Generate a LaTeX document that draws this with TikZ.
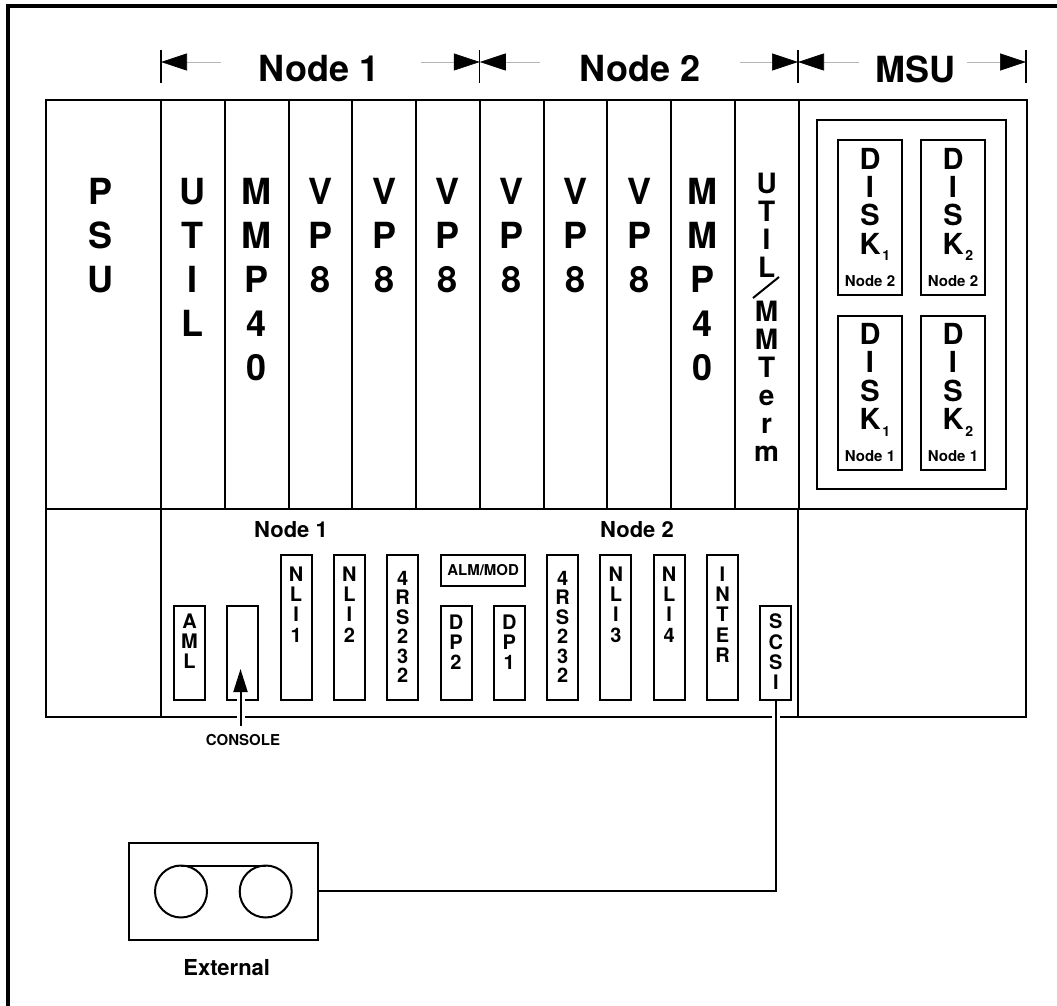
\documentclass[tikz,border=0pt]{standalone}
\usepackage{fontspec}
\setmainfont{TeX Gyre Heros}
\usetikzlibrary{arrows.meta, positioning, calc}
\definecolor{dimgray}{HTML}{b5b5b5}
\newcommand{\disksub}[1]{\rlap{\raisebox{-6.5pt}{\hspace{2pt}\fontsize{14}{15}\selectfont #1}}}

\begin{document}
\begin{tikzpicture}[
    x=1pt, y=-1pt,
    line width=2pt,
    panel/.style={rectangle, draw, inner sep=0pt, outer sep=0pt},
    slot_box/.style={panel, minimum width=63.75pt, minimum height=409pt},
    card/.style={panel, minimum width=31pt},
    card_tall/.style={card, minimum height=145pt},
    card_short/.style={card, minimum height=94pt},
    disk_box/.style={panel, minimum width=64pt, minimum height=154.5pt},
    big_text/.style={inner sep=0pt, align=center, font=\fontsize{36}{44}\bfseries\selectfont},
    slim_text/.style={inner sep=0pt, align=center, font=\fontsize{28}{28}\bfseries\selectfont},
    disk_text/.style={inner sep=0pt, align=center, font=\fontsize{29}{28.3}\bfseries\selectfont},
    card_text/.style={inner sep=0pt, align=center, font=\fontsize{20}{20.2}\bfseries\selectfont},
    card_dense/.style={inner sep=0pt, align=center, font=\fontsize{20}{19.5}\bfseries\selectfont},
    tag_text/.style={inner sep=0pt, font=\fontsize{15}{15}\bfseries\selectfont},
    group_text/.style={inner sep=0pt, font=\fontsize{22}{22}\bfseries\selectfont},
    dim_arrow/.style={draw=dimgray, line width=0.6pt, -{Triangle[length=26pt, width=17pt, black]}},
    dim_tick/.style={line width=1.2pt},
    halo/.style={preaction={draw=white, line width=8pt, shorten <=2pt, shorten >=2pt, -}}
]
\useasboundingbox (0,0) rectangle (1057,1006);

% outer frame, open at the right and the bottom
\draw[line width=4pt] (8,1006) -- (8,6) -- (1057,6);

% header
\node[big_text] (hdr1) at (319,69) {Node 1};
\node[big_text] (hdr2) at (640,69) {Node 2};
\node[big_text] (hdr3) at (915,69) {MSU};
\coordinate (tick1) at (161,62);
\coordinate (tick2) at (479.75,62);
\coordinate (tick3) at (798,62);
\coordinate (tick4) at (1026,62);
\coordinate (h1a) at (221,62);
\coordinate (h1b) at (421,62);
\coordinate (h2a) at (540,62);
\coordinate (h2b) at (740,62);
\coordinate (h3a) at (859,62);
\coordinate (h3b) at (967,62);
\draw[dim_tick] ([yshift=12pt]tick1) -- ([yshift=-21pt]tick1);
\draw[dim_tick] ([yshift=12pt]tick2) -- ([yshift=-21pt]tick2);
\draw[dim_tick] ([yshift=12pt]tick3) -- ([yshift=-21pt]tick3);
\draw[dim_tick] ([yshift=12pt]tick4) -- ([yshift=-21pt]tick4);
\draw[dim_arrow] (h1a) -- (tick1);
\draw[dim_arrow] (h1b) -- (tick2);
\draw[dim_arrow] (h2a) -- (tick2);
\draw[dim_arrow] (h2b) -- (tick3);
\draw[dim_arrow] (h3a) -- (tick3);
\draw[dim_arrow] (h3b) -- (tick4);

% upper row
\node[panel, minimum width=115pt, minimum height=409pt, anchor=north west] (psu) at (46,100) {};
\node[slot_box, right=0pt of psu] (s1) {};
\node[slot_box, right=0pt of s1] (s2) {};
\node[slot_box, right=0pt of s2] (s3) {};
\node[slot_box, right=0pt of s3] (s4) {};
\node[slot_box, right=0pt of s4] (s5) {};
\node[slot_box, right=0pt of s5] (s6) {};
\node[slot_box, right=0pt of s6] (s7) {};
\node[slot_box, right=0pt of s7] (s8) {};
\node[slot_box, right=0pt of s8] (s9) {};
\node[slot_box, right=0pt of s9] (s10) {};
\node[panel, minimum width=228pt, minimum height=409pt, right=0pt of s10] (msu) {};

\node[big_text, below=77pt of psu.north, xshift=-3pt] (psu_txt) {P\\S\\U};
\node[big_text, below=77pt of s1.north] (s1_txt) {U\\T\\I\\L};
\node[big_text, below=77pt of s2.north] (s2_txt) {M\\M\\P\\4\\0};
\node[big_text, below=77pt of s3.north] (s3_txt) {V\\P\\8};
\node[big_text, below=77pt of s4.north] (s4_txt) {V\\P\\8};
\node[big_text, below=77pt of s5.north] (s5_txt) {V\\P\\8};
\node[big_text, below=77pt of s6.north] (s6_txt) {V\\P\\8};
\node[big_text, below=77pt of s7.north] (s7_txt) {V\\P\\8};
\node[big_text, below=77pt of s8.north] (s8_txt) {V\\P\\8};
\node[big_text, below=77pt of s9.north] (s9_txt) {M\\M\\P\\4\\0};
\node[slim_text, below=72pt of s10.north] (util_txt) {U\\T\\I\\L};
\node[slim_text, below=200pt of s10.north] (term_txt) {M\\M\\T\\e\\r\\m};
\coordinate (slash_a) at (753,298);
\coordinate (slash_b) at (779,277);
\draw (slash_a) -- (slash_b);

% disk pack
\node[panel, minimum width=189pt, minimum height=369pt, anchor=north west] (pack) at (817,120) {};
\node[disk_box, anchor=north west] (d21) at (838,140) {};
\node[disk_box, right=19pt of d21] (d22) {};
\node[disk_box, below=21pt of d21] (d11) {};
\node[disk_box, right=19pt of d11] (d12) {};
\node[disk_text, below=7pt of d21.north] (d21_txt) {D\\I\\S\\K\disksub{1}};
\node[disk_text, below=7pt of d22.north] (d22_txt) {D\\I\\S\\K\disksub{2}};
\node[disk_text, below=7pt of d11.north] (d11_txt) {D\\I\\S\\K\disksub{1}};
\node[disk_text, below=7pt of d12.north] (d12_txt) {D\\I\\S\\K\disksub{2}};
\node[tag_text, above=7pt of d21.south] (d21_tag) {Node 2};
\node[tag_text, above=7pt of d22.south] (d22_tag) {Node 2};
\node[tag_text, above=7pt of d11.south] (d11_tag) {Node 1};
\node[tag_text, above=7pt of d12.south] (d12_tag) {Node 1};

% lower row
\node[panel, minimum width=115pt, minimum height=208pt, below=0pt of psu] (low1) {};
\node[panel, minimum width=637pt, minimum height=208pt, right=0pt of low1] (low2) {};
\node[panel, minimum width=228pt, minimum height=208pt, right=0pt of low2] (low3) {};
\node[group_text] (grp1) at (291,530) {Node 1};
\node[group_text] (grp2) at (637,530) {Node 2};

\node[card_short, anchor=south west] (aml) at (174,700) {};
\node[card_short, right=22.3pt of aml.south east, anchor=south west] (console) {};
\node[card_tall, right=22.3pt of console.south east, anchor=south west] (nli1) {};
\node[card_tall, right=22.3pt of nli1.south east, anchor=south west] (nli2) {};
\node[card_tall, right=22.3pt of nli2.south east, anchor=south west] (rsa) {};
\node[card_short, right=22.3pt of rsa.south east, anchor=south west] (dp2) {};
\node[card_short, right=22.3pt of dp2.south east, anchor=south west] (dp1) {};
\node[card_tall, right=22.3pt of dp1.south east, anchor=south west] (rsb) {};
\node[card_tall, right=22.3pt of rsb.south east, anchor=south west] (nli3) {};
\node[card_tall, right=22.3pt of nli3.south east, anchor=south west] (nli4) {};
\node[card_tall, right=22.3pt of nli4.south east, anchor=south west] (inter) {};
\node[card_short, right=22.3pt of inter.south east, anchor=south west] (scsi) {};
\node[panel, minimum width=84.3pt, minimum height=31pt, anchor=north west, font=\fontsize{15}{15}\bfseries\selectfont] (alm) at (441,555) {ALM/MOD};

\node[card_text, below=7pt of aml.north] (aml_txt) {A\\M\\L};
\node[card_text, below=11pt of nli1.north] (nli1_txt) {N\\L\\I\\1};
\node[card_text, below=11pt of nli2.north] (nli2_txt) {N\\L\\I\\2};
\node[card_dense, below=15pt of rsa.north] (rsa_txt) {4\\R\\S\\2\\3\\2};
\node[card_text, below=8pt of dp2.north] (dp2_txt) {D\\P\\2};
\node[card_text, below=8pt of dp1.north] (dp1_txt) {D\\P\\1};
\node[card_dense, below=15pt of rsb.north] (rsb_txt) {4\\R\\S\\2\\3\\2};
\node[card_text, below=11pt of nli3.north] (nli3_txt) {N\\L\\I\\3};
\node[card_text, below=11pt of nli4.north] (nli4_txt) {N\\L\\I\\4};
\node[card_text, below=11pt of inter.north] (inter_txt) {I\\N\\T\\E\\R};
\node[card_text, below=7pt of scsi.north] (scsi_txt) {S\\C\\S\\I};

% console lead
\node[inner sep=0pt, font=\fontsize{15}{15}\bfseries\selectfont] (console_lbl) at (243,740) {CONSOLE};
\coordinate (console_tail) at (240.5,726);
\coordinate (console_tip) at (240.5,669);
\draw[halo, -{Triangle[length=23pt, width=14pt]}] (console_tail) -- (console_tip);

% external tape unit
\node[panel, minimum width=188.5pt, minimum height=97.5pt, anchor=north west] (ext) at (129.3,842.7) {};
\node[circle, draw, inner sep=0pt, outer sep=0pt, minimum size=52pt] (reel1) at (181,891.5) {};
\node[circle, draw, inner sep=0pt, outer sep=0pt, minimum size=52pt] (reel2) at (265.7,891.5) {};
\draw (reel1.north) -- (reel2.north);
\node[group_text] (ext_lbl) at (226.7,967.7) {External};
\draw[halo] (scsi.south) |- (ext.east);

\end{tikzpicture}
\end{document}
